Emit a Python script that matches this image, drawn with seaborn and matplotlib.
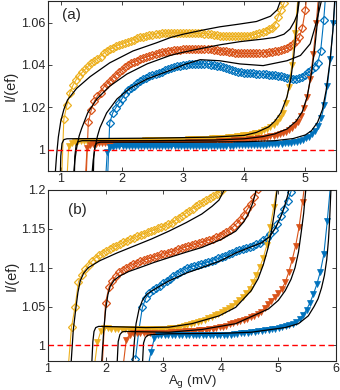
import numpy as np
import matplotlib
matplotlib.use("Agg")
import matplotlib.pyplot as plt
import matplotlib.ticker as mticker
import seaborn as sns

# ── Colours ────────────────────────────────────────────
YEL = "#EDB120"
ORA = "#D95319"
BLU = "#0072BD"

# ── Panel (a) data: measured points (x = start + step * i) ──
A_STEP = 0.05
a_dia_yel_x0 = 1.00
a_dia_yel = [0.975, 1.0145, 1.021, 1.027, 1.0305, 1.033, 1.035, 1.0365, 1.038, 1.0395,
             1.041, 1.042, 1.043, 1.044, 1.0455, 1.0465, 1.0475, 1.048, 1.049, 1.0495,
             1.050, 1.0505, 1.051, 1.0515, 1.052, 1.0525, 1.053, 1.0533, 1.0537, 1.054,
             1.0543, 1.0546, 1.0548, 1.055, 1.055, 1.0551, 1.0552, 1.0552, 1.0553, 1.0553,
             1.0553, 1.0553, 1.0553, 1.0552, 1.0551, 1.055, 1.0549, 1.0548, 1.0546, 1.0544,
             1.0542, 1.054, 1.0538, 1.0537, 1.0536, 1.0535, 1.0535, 1.0535, 1.0535, 1.0536,
             1.0536, 1.0537, 1.0539, 1.0542, 1.0546, 1.0551, 1.0556, 1.0562, 1.0568, 1.0575,
             1.059, 1.0625, 1.066, 1.069, 1.075]
a_dia_ora_x0 = 1.40
a_dia_ora = [0.975, 1.013, 1.019, 1.023, 1.0255, 1.027, 1.0295, 1.031, 1.0325, 1.034,
             1.0355, 1.0365, 1.0378, 1.039, 1.040, 1.041, 1.0415, 1.042, 1.0428, 1.0433,
             1.0438, 1.0443, 1.0448, 1.0452, 1.0456, 1.046, 1.0463, 1.0466, 1.0468, 1.047,
             1.0472, 1.0473, 1.0474, 1.0475, 1.0476, 1.0477, 1.0477, 1.0477, 1.0477, 1.0476,
             1.0475, 1.0474, 1.0472, 1.047, 1.0468, 1.0466, 1.0464, 1.0462, 1.046, 1.0458,
             1.0457, 1.0456, 1.0455, 1.0455, 1.0455, 1.0455, 1.0455, 1.0456, 1.0457, 1.0458,
             1.046, 1.0462, 1.0464, 1.0467, 1.047, 1.0474, 1.048, 1.0488, 1.0498, 1.0512,
             1.053, 1.0575, 1.066, 1.08]
a_dia_blu_x0 = 1.75
a_dia_blu = [0.975, 1.0127, 1.0174, 1.0198, 1.022, 1.024, 1.0263, 1.028, 1.029, 1.0303,
             1.0315, 1.0325, 1.0333, 1.034, 1.0347, 1.0352, 1.0357, 1.0362, 1.0368, 1.0374,
             1.038, 1.0385, 1.039, 1.0394, 1.0397, 1.04, 1.0402, 1.0404, 1.0405, 1.0406,
             1.0406, 1.0406, 1.0405, 1.0404, 1.0402, 1.04, 1.0397, 1.0393, 1.0389, 1.0385,
             1.038, 1.0376, 1.0372, 1.0369, 1.0366, 1.0364, 1.0362, 1.0361, 1.036, 1.0359,
             1.0358, 1.0357, 1.0356, 1.0355, 1.0354, 1.0352, 1.035, 1.0347, 1.0344, 1.034,
             1.0337, 1.0335, 1.0335, 1.0338, 1.0345, 1.0355, 1.0365, 1.0378, 1.0392, 1.041,
             1.0465, 1.061, 1.08]
a_tri_yel_x0 = 1.08
a_tri_yel = [0.975, 1.002, 1.0033, 1.0038, 1.004, 1.004, 1.004, 1.004, 1.004, 1.004,
             1.004, 1.004, 1.0041, 1.0041, 1.0041, 1.0041, 1.0041, 1.0042, 1.0042, 1.0042,
             1.0042, 1.0042, 1.0043, 1.0043, 1.0043, 1.0043, 1.0044, 1.0044, 1.0044, 1.0044,
             1.0045, 1.0045, 1.0045, 1.0046, 1.0046, 1.0046, 1.0047, 1.0047, 1.0048, 1.0048,
             1.0049, 1.0049, 1.005, 1.005, 1.0051, 1.0052, 1.0052, 1.0053, 1.0054, 1.0055,
             1.0056, 1.0057, 1.0058, 1.0059, 1.006, 1.0062, 1.0064, 1.0066, 1.0068, 1.007,
             1.0072, 1.0074, 1.0077, 1.0081, 1.0086, 1.0092, 1.0099, 1.0108, 1.0118, 1.013,
             1.0148, 1.0175, 1.022, 1.0295, 1.04, 1.055, 1.072, 1.09]
a_tri_ora_x0 = 1.38
a_tri_ora = [0.975, 1.001, 1.0022, 1.0027, 1.0029, 1.003, 1.003, 1.003, 1.003, 1.003,
             1.003, 1.003, 1.003, 1.003, 1.003, 1.0031, 1.0031, 1.0031, 1.0031, 1.0031,
             1.0031, 1.0031, 1.0032, 1.0032, 1.0032, 1.0032, 1.0032, 1.0033, 1.0033, 1.0033,
             1.0033, 1.0034, 1.0034, 1.0034, 1.0035, 1.0035, 1.0035, 1.0036, 1.0036, 1.0037,
             1.0037, 1.0038, 1.0038, 1.0039, 1.004, 1.004, 1.0041, 1.0042, 1.0043, 1.0044,
             1.0045, 1.0046, 1.0047, 1.0048, 1.0049, 1.0051, 1.0052, 1.0054, 1.0056, 1.0058,
             1.006, 1.0063, 1.0066, 1.007, 1.0074, 1.0079, 1.0085, 1.0093, 1.0103, 1.0115,
             1.0132, 1.0158, 1.0195, 1.025, 1.0335, 1.045, 1.06, 1.078]
a_tri_blu_x0 = 1.71
a_tri_blu = [0.975, 0.999, 1.0012, 1.0015, 1.0016, 1.0016, 1.0016, 1.0016, 1.0016, 1.0016,
             1.0016, 1.0016, 1.0016, 1.0016, 1.0016, 1.0016, 1.0017, 1.0017, 1.0017, 1.0017,
             1.0017, 1.0017, 1.0017, 1.0017, 1.0017, 1.0018, 1.0018, 1.0018, 1.0018, 1.0018,
             1.0018, 1.0018, 1.0018, 1.0019, 1.0019, 1.0019, 1.0019, 1.0019, 1.002, 1.002,
             1.002, 1.002, 1.002, 1.0021, 1.0021, 1.0021, 1.0022, 1.0022, 1.0022, 1.0023,
             1.0023, 1.0024, 1.0024, 1.0025, 1.0026, 1.0026, 1.0027, 1.0028, 1.0029, 1.003,
             1.0031, 1.0033, 1.0036, 1.0039, 1.0043, 1.0048, 1.0054, 1.0062, 1.0073, 1.0088,
             1.011, 1.015, 1.021, 1.03, 1.043, 1.06, 1.08, 1.1]

# ── Panel (a) fits ─────────────────────────────────────
a_fit_up_yel_x = [0.90, 0.93, 0.96, 1.00, 1.05, 1.11, 1.26, 1.48, 1.80, 2.18, 2.57, 2.80, 3.00, 3.33, 3.60,
                  3.90, 4.20, 4.43, 4.54, 4.59, 4.62]
a_fit_up_yel_y = [0.985, 0.997, 1.006, 1.0135, 1.019, 1.0235, 1.029, 1.0345, 1.041, 1.0466, 1.0505,
                  1.053, 1.0545, 1.0565, 1.058, 1.0592, 1.0605, 1.063, 1.066, 1.070, 1.075]
a_fit_up_ora_x = [1.20, 1.23, 1.26, 1.30, 1.34, 1.44, 1.59, 1.80, 2.08, 2.41, 2.79, 3.00, 3.30, 3.60,
                  3.93, 4.30, 4.50, 4.65, 4.75, 4.82, 4.87, 4.90, 4.93]
a_fit_up_ora_y = [0.985, 0.995, 1.001, 1.0065, 1.010, 1.0174, 1.024, 1.030, 1.0357, 1.0405, 1.0445,
                  1.046, 1.0478, 1.0495, 1.051, 1.0522, 1.053, 1.0545, 1.057, 1.0605, 1.064, 1.070, 1.075]
a_fit_up_blu_x = [1.50, 1.53, 1.56, 1.60, 1.64, 1.75, 1.92, 2.13, 2.41, 2.79, 3.05, 3.28, 3.60, 3.93,
                  4.31, 4.70, 4.92, 5.08, 5.16, 5.22, 5.26, 5.28]
a_fit_up_blu_y = [0.985, 0.995, 1.001, 1.0065, 1.0104, 1.0174, 1.024, 1.029, 1.0334, 1.0375, 1.0405,
                  1.0425, 1.042, 1.0405, 1.0397, 1.042, 1.0445, 1.050, 1.058, 1.065, 1.070, 1.075]
a_fit_lo_yel_x = [0.99, 1.00, 1.02, 1.05, 1.10, 1.50, 2.50, 3.50, 4.00, 4.20, 4.40, 4.50, 4.60, 4.70,
                  4.76, 4.81, 4.85, 4.88, 4.90]
a_fit_lo_yel_y = [0.985, 0.997, 1.003, 1.0048, 1.0052, 1.0053, 1.0055, 1.006, 1.0068, 1.0082, 1.0108,
                  1.0135, 1.0175, 1.025, 1.033, 1.044, 1.056, 1.068, 1.075]
a_fit_lo_ora_x = [1.22, 1.23, 1.25, 1.28, 1.35, 2.50, 3.50, 4.00, 4.30, 4.50, 4.70, 4.85, 4.95, 5.03,
                  5.10, 5.15, 5.20, 5.24]
a_fit_lo_ora_y = [0.985, 0.997, 1.002, 1.0038, 1.0043, 1.0043, 1.0046, 1.0052, 1.0062, 1.0075, 1.0098,
                  1.0135, 1.018, 1.025, 1.036, 1.047, 1.061, 1.075]
a_fit_lo_blu_x = [1.53, 1.54, 1.56, 1.59, 1.65, 3.00, 4.00, 4.50, 4.80, 5.00, 5.10, 5.20, 5.28, 5.34,
                  5.40, 5.45, 5.49]
a_fit_lo_blu_y = [0.985, 0.997, 1.002, 1.0032, 1.0036, 1.0036, 1.0038, 1.0043, 1.0053, 1.007, 1.009,
                  1.013, 1.019, 1.028, 1.041, 1.056, 1.075]

# ── Panel (b) data ─────────────────────────────────────
B_STEP = 0.06
b_dia_yel_x0 = 1.35
b_dia_yel = [0.97, 1.024, 1.049, 1.082, 1.091, 1.098, 1.104, 1.109, 1.113, 1.116,
             1.119, 1.1215, 1.124, 1.126, 1.128, 1.1305, 1.1325, 1.1345, 1.1365, 1.1385,
             1.1405, 1.1425, 1.144, 1.1455, 1.147, 1.149, 1.1505, 1.152, 1.154, 1.156,
             1.158, 1.161, 1.164, 1.167, 1.170, 1.173, 1.176, 1.179, 1.1815, 1.184,
             1.187, 1.1895, 1.192, 1.195, 1.198, 1.202]
b_dia_ora_x0 = 1.94
b_dia_ora = [0.97, 1.055, 1.075, 1.083, 1.089, 1.094, 1.097, 1.100, 1.1025, 1.1045,
             1.106, 1.108, 1.1095, 1.111, 1.1125, 1.114, 1.1155, 1.117, 1.118, 1.119,
             1.1205, 1.122, 1.1235, 1.125, 1.1265, 1.128, 1.129, 1.130, 1.1315, 1.133,
             1.1345, 1.136, 1.1375, 1.139, 1.141, 1.1435, 1.146, 1.149, 1.153, 1.157,
             1.162, 1.168, 1.175, 1.182, 1.191, 1.201]
b_dia_blu_x0 = 2.52
b_dia_blu = [0.983, 1.02, 1.049, 1.061, 1.067, 1.071, 1.074, 1.077, 1.080, 1.083,
             1.086, 1.089, 1.092, 1.095, 1.0975, 1.0995, 1.101, 1.1025, 1.104, 1.105,
             1.106, 1.1075, 1.109, 1.1105, 1.112, 1.1135, 1.115, 1.117, 1.119, 1.121,
             1.1225, 1.124, 1.1255, 1.127, 1.1285, 1.130, 1.132, 1.135, 1.138, 1.143,
             1.148, 1.156, 1.166, 1.176, 1.186, 1.198, 1.21]
b_tri_yel_x0 = 1.80
b_tri_yel = [0.97, 1.004, 1.019, 1.022, 1.022, 1.0215, 1.0215, 1.021, 1.021, 1.021,
             1.021, 1.021, 1.021, 1.021, 1.021, 1.021, 1.021, 1.021, 1.021, 1.021,
             1.021, 1.0215, 1.022, 1.0225, 1.023, 1.024, 1.025, 1.026, 1.027, 1.0285,
             1.030, 1.0315, 1.033, 1.035, 1.037, 1.039, 1.041, 1.043, 1.0455, 1.048,
             1.051, 1.054, 1.058, 1.062, 1.067, 1.073, 1.081, 1.091, 1.101, 1.113,
             1.129, 1.152, 1.178, 1.205]
b_tri_ora_x0 = 2.30
b_tri_ora = [0.97, 1.0075, 1.014, 1.016, 1.016, 1.016, 1.016, 1.016, 1.016, 1.016,
             1.016, 1.016, 1.0162, 1.0165, 1.0168, 1.017, 1.0173, 1.0176, 1.018, 1.0183,
             1.0187, 1.019, 1.0195, 1.02, 1.0205, 1.021, 1.0217, 1.0225, 1.0233, 1.0242,
             1.0255, 1.027, 1.0285, 1.030, 1.0315, 1.033, 1.034, 1.036, 1.038, 1.040,
             1.0435, 1.048, 1.053, 1.0575, 1.062, 1.067, 1.073, 1.081, 1.094, 1.11,
             1.128, 1.152, 1.185, 1.22]
b_tri_blu_x0 = 2.73
b_tri_blu = [0.97, 0.992, 1.01, 1.013, 1.0135, 1.014, 1.014, 1.014, 1.014, 1.014,
             1.0138, 1.0136, 1.0135, 1.0133, 1.0132, 1.0131, 1.013, 1.013, 1.013, 1.013,
             1.013, 1.0131, 1.0133, 1.0136, 1.014, 1.0145, 1.015, 1.0155, 1.016, 1.0165,
             1.017, 1.0175, 1.018, 1.0186, 1.0193, 1.02, 1.0208, 1.0216, 1.0225, 1.0235,
             1.0247, 1.026, 1.028, 1.0305, 1.034, 1.039, 1.046, 1.055, 1.066, 1.079,
             1.095, 1.117, 1.16, 1.21]

# ── Panel (b) fits ─────────────────────────────────────
b_fit_up_yel_x = [1.40, 1.44, 1.48, 1.52, 1.56, 1.62, 1.70, 1.90, 2.20, 2.50, 2.80, 3.10, 3.40, 3.67,
                  3.85, 3.97, 4.06, 4.10]
b_fit_up_yel_y = [0.975, 1.02, 1.045, 1.068, 1.083, 1.093, 1.100, 1.109, 1.119, 1.128, 1.137, 1.147,
                  1.158, 1.169, 1.179, 1.187, 1.200, 1.21]
b_fit_up_ora_x = [1.93, 1.97, 2.00, 2.04, 2.08, 2.15, 2.24, 2.40, 2.59, 2.85, 3.10, 3.40, 3.67, 4.00,
                  4.26, 4.40, 4.48, 4.55, 4.60, 4.63]
b_fit_up_ora_y = [0.975, 1.02, 1.045, 1.065, 1.076, 1.084, 1.089, 1.095, 1.100, 1.107, 1.113, 1.120,
                  1.126, 1.136, 1.147, 1.159, 1.169, 1.182, 1.195, 1.21]
b_fit_up_blu_x = [2.47, 2.50, 2.53, 2.58, 2.64, 2.72, 2.81, 3.10, 3.40, 3.67, 4.00, 4.26, 4.50, 4.71,
                  4.85, 4.95, 5.05, 5.12, 5.17, 5.20]
b_fit_up_blu_y = [0.975, 1.005, 1.028, 1.046, 1.058, 1.066, 1.0705, 1.083, 1.093, 1.100, 1.109,
                  1.119, 1.126, 1.132, 1.140, 1.151, 1.167, 1.182, 1.195, 1.21]
b_fit_lo_yel_x = [1.76, 1.78, 1.80, 1.83, 1.88, 2.20, 2.70, 3.10, 3.50, 3.97, 4.26, 4.53, 4.65, 4.74,
                  4.82, 4.88, 4.93, 4.97, 5.00]
b_fit_lo_yel_y = [0.975, 1.005, 1.018, 1.023, 1.0245, 1.024, 1.023, 1.0235, 1.028, 1.038, 1.049,
                  1.0705, 1.086, 1.104, 1.125, 1.147, 1.170, 1.195, 1.21]
b_fit_lo_ora_x = [2.20, 2.22, 2.25, 2.29, 2.35, 3.10, 3.67, 4.26, 4.50, 4.83, 5.00, 5.12, 5.22, 5.29,
                  5.35, 5.40, 5.44, 5.47, 5.49]
b_fit_lo_ora_y = [0.975, 1.005, 1.014, 1.0175, 1.018, 1.017, 1.0205, 1.028, 1.036, 1.047, 1.058,
                  1.0705, 1.085, 1.100, 1.120, 1.147, 1.170, 1.195, 1.21]
b_fit_lo_blu_x = [2.64, 2.66, 2.69, 2.73, 2.80, 3.10, 4.00, 4.53, 5.12, 5.35, 5.52, 5.62, 5.69, 5.75,
                  5.80, 5.84, 5.87, 5.89, 5.91, 5.92]
b_fit_lo_blu_y = [0.975, 1.003, 1.010, 1.013, 1.014, 1.015, 1.0155, 1.017, 1.023, 1.028, 1.038,
                  1.050, 1.060, 1.074, 1.090, 1.110, 1.135, 1.160, 1.195, 1.21]

# ── Global Style ───────────────────────────────────────
sns.set_theme(style="ticks")
plt.rcParams.update({
    "font.family": ["Liberation Sans", "DejaVu Sans"],
    "font.size": 9,
    "axes.edgecolor": "#262626",
    "axes.linewidth": 0.8,
    "xtick.color": "#262626",
    "ytick.color": "#262626",
    "xtick.direction": "in",
    "ytick.direction": "in",
    "xtick.major.size": 3,
    "ytick.major.size": 3,
    "xtick.major.width": 0.6,
    "ytick.major.width": 0.6,
    "xtick.top": True,
    "ytick.right": True,
    "xtick.labelsize": 9,
    "ytick.labelsize": 9,
})


def grid(x0, step, ys):
    return np.round(x0 + step * np.arange(len(ys)), 3)


def draw_points(ax, x0, step, ys, color, marker):
    xs = grid(x0, step, ys)
    if marker == "D":
        sns.lineplot(x=xs, y=ys, ax=ax, color=color, linewidth=0.8, estimator=None, sort=False,
                     marker="D", markersize=4.2, markerfacecolor="none",
                     markeredgecolor=color, markeredgewidth=0.9, zorder=2)
    else:
        sns.lineplot(x=xs, y=ys, ax=ax, color=color, linewidth=0.8, estimator=None, sort=False,
                     marker="v", markersize=5.0, markerfacecolor=color,
                     markeredgecolor=color, markeredgewidth=0.5, zorder=2)


def draw_fit(ax, xs, ys):
    sns.lineplot(x=xs, y=ys, ax=ax, color="black", linewidth=0.9, estimator=None, sort=False,
                 zorder=3)


fig = plt.figure(figsize=(3.4, 3.9), dpi=100)
ax_a = fig.add_axes([0.141, 0.5615, 0.847, 0.435])
ax_b = fig.add_axes([0.141, 0.0744, 0.847, 0.4385])

# ── Panel (a) ──────────────────────────────────────────
for x0, ys, c, m in [(a_dia_yel_x0, a_dia_yel, YEL, "D"), (a_dia_ora_x0, a_dia_ora, ORA, "D"),
                     (a_dia_blu_x0, a_dia_blu, BLU, "D"), (a_tri_yel_x0, a_tri_yel, YEL, "v"),
                     (a_tri_ora_x0, a_tri_ora, ORA, "v"), (a_tri_blu_x0, a_tri_blu, BLU, "v")]:
    draw_points(ax_a, x0, A_STEP, ys, c, m)
for xs, ys in [(a_fit_up_yel_x, a_fit_up_yel_y), (a_fit_up_ora_x, a_fit_up_ora_y),
               (a_fit_up_blu_x, a_fit_up_blu_y), (a_fit_lo_yel_x, a_fit_lo_yel_y),
               (a_fit_lo_ora_x, a_fit_lo_ora_y), (a_fit_lo_blu_x, a_fit_lo_blu_y)]:
    draw_fit(ax_a, xs, ys)
ax_a.axhline(1, color="red", linestyle="--", linewidth=1.0, dashes=(4, 2.5), zorder=4)
ax_a.set_xlim(0.79, 5.5)
ax_a.set_ylim(0.99, 1.07)
ax_a.set_xticks([1, 2, 3, 4, 5])
ax_a.set_yticks([1, 1.02, 1.04, 1.06])
ax_a.text(0.05, 0.92, "(a)", transform=ax_a.transAxes, fontsize=11, va="center")

# ── Panel (b) ──────────────────────────────────────────
for x0, ys, c, m in [(b_dia_yel_x0, b_dia_yel, YEL, "D"), (b_dia_ora_x0, b_dia_ora, ORA, "D"),
                     (b_dia_blu_x0, b_dia_blu, BLU, "D"), (b_tri_yel_x0, b_tri_yel, YEL, "v"),
                     (b_tri_ora_x0, b_tri_ora, ORA, "v"), (b_tri_blu_x0, b_tri_blu, BLU, "v")]:
    draw_points(ax_b, x0, B_STEP, ys, c, m)
for xs, ys in [(b_fit_up_yel_x, b_fit_up_yel_y), (b_fit_up_ora_x, b_fit_up_ora_y),
               (b_fit_up_blu_x, b_fit_up_blu_y), (b_fit_lo_yel_x, b_fit_lo_yel_y),
               (b_fit_lo_ora_x, b_fit_lo_ora_y), (b_fit_lo_blu_x, b_fit_lo_blu_y)]:
    draw_fit(ax_b, xs, ys)
ax_b.axhline(1, color="red", linestyle="--", linewidth=1.0, dashes=(4, 2.5), zorder=4)
ax_b.set_xlim(1, 6)
ax_b.set_ylim(0.98, 1.2)
ax_b.set_xticks([1, 2, 3, 4, 5, 6])
ax_b.set_yticks([1, 1.05, 1.1, 1.15, 1.2])
ax_b.text(0.07, 0.88, "(b)", transform=ax_b.transAxes, fontsize=11, va="center")
ax_b.set_xlabel(r"A$_\mathrm{g}$ (mV)", fontsize=9.5)
ax_b.xaxis.set_label_coords(0.5, -0.072)

for ax in (ax_a, ax_b):
    ax.yaxis.set_major_formatter(mticker.FormatStrFormatter("%g"))
    ax.set_ylabel("I/(ef)", fontsize=10.5, labelpad=2)
    ax.tick_params(axis="x", pad=1.5)
    ax.tick_params(axis="y", pad=2)
    ax.set_facecolor("white")

fig.savefig("out.png", dpi=100, facecolor="white")
